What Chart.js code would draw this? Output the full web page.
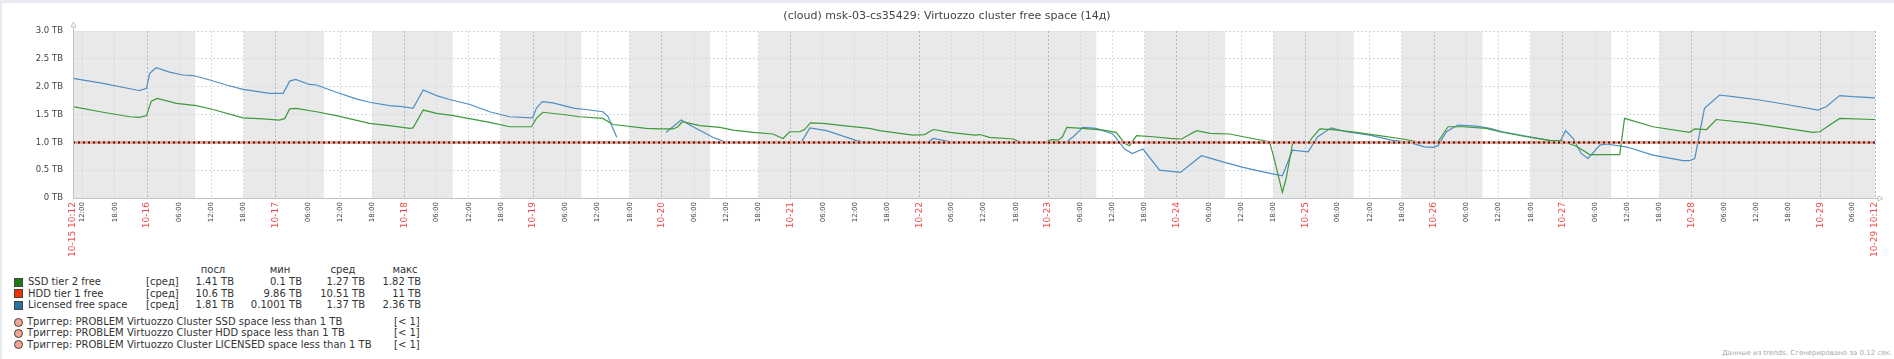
<!DOCTYPE html>
<html>
<head>
<meta charset="utf-8">
<script src="https://cdn.jsdelivr.net/npm/chart.js@4.4.0/dist/chart.umd.min.js"></script>
<style>
  html, body { margin: 0; padding: 0; background: #fff; }
  body { width: 1894px; height: 359px; position: relative; overflow: hidden; font-family: 'DejaVu Sans', sans-serif; color: #333; }
  .edge-top { position: absolute; left: 0; top: 0; width: 1894px; height: 3px; background: #e8ecf0; }
  .edge-left { position: absolute; left: 0; top: 0; width: 2px; height: 359px; background: #e8ecf0; }
  #chart { position: absolute; left: 0; top: 0; }
  .title { position: absolute; left: 0; width: 1894px; top: 9px; text-align: center; font-size: 11px; color: #444; }
  .lg { position: absolute; font-size: 10px; line-height: 12px; white-space: nowrap; color: #333; }
  .r { text-align: right; }
  .c { text-align: center; }
  .sw { position: absolute; width: 7px; height: 7px; border: 1px solid #444; }
  .dot { position: absolute; width: 7px; height: 7px; border: 1px solid #444; border-radius: 50%; background: #f3a494; }
  .foot { position: absolute; right: 2px; top: 349px; font-size: 7px; color: #aaa; }
</style>
</head>
<body>
<div class="edge-top"></div>
<div class="edge-left"></div>
<canvas id="chart" width="1894" height="262"></canvas>
<div class="title">(cloud) msk-03-cs35429: Virtuozzo cluster free space (14д)</div>
<div id="legend"></div>
<div class="foot">Данные из trends. Сгенерировано за 0.12 сек.</div>
<script>
// ---- time axis: hours since 10-15 10:12 ----
const startLabel = '10-15 10:12';
const endLabel = '10-29 10:12';
const dayLabels = ['10-16', '10-17', '10-18', '10-19', '10-20', '10-21', '10-22',
                   '10-23', '10-24', '10-25', '10-26', '10-27', '10-28', '10-29'];
const hourLabels = ['12:00', '18:00', null, '06:00'];

// non working time (grey background), hours since start
const offHours = [[0, 22.8], [31.8, 46.8], [55.8, 70.8], [79.8, 94.8], [103.8, 118.8],
                  [127.8, 190.8], [199.8, 214.8], [223.8, 238.8], [247.8, 262.8],
                  [271.8, 286.8], [295.8, 336]];

// SSD tier 2 free, TB
const ssdHours = [0, 5.6, 10.6, 12.4, 13.7, 14.6, 15.7, 19.3, 23.0, 26.1, 31.7, 35.4, 38.5, 39.5, 40.4,
  41.6, 45.4, 49.1, 55.3, 59.0, 62.8, 63.4, 65.3, 67.8, 70.9, 77.7, 81.4, 85.5, 86.4, 87.6, 91.4,
  94.5, 98.8, 100.7, 106.9, 109.4, 111.9, 112.8, 113.6, 116.9, 120.6, 123.1, 126.8, 130.5, 132.4,
  133.6, 135.5, 136.4, 137.5, 139.9, 143.6, 148.5, 150.4, 156.6, 158.8, 160.4, 163.5, 168.1, 169.1,
  170.9, 175.3, 176.5, 181.5, 182.4, 183.7, 184.5, 185.3, 188.3, 192.1, 194.5, 196.1, 197.0, 198.3,
  201.4, 204.5, 206.7, 209.5, 212.0, 215.7, 218.2, 223.1, 223.8, 225.5, 226.2, 227.4, 230.3, 231.2,
  232.5, 234.9, 239.3, 243.6, 248.0, 252.0, 254.5, 256.4, 259.2, 263.5, 266.0, 271.0, 275.6, 277.5,
  280.3, 282.8, 288.4, 289.3, 294.6, 301.4, 302.4, 304.6, 306.4, 313.2, 319.5, 324.4, 325.7, 329.4,
  335.6, 336];
const ssdValues = [1.64, 1.54, 1.46, 1.45, 1.48, 1.74, 1.79, 1.70, 1.66, 1.59, 1.44, 1.42, 1.40, 1.43, 1.60,
  1.61, 1.55, 1.48, 1.34, 1.30, 1.25, 1.26, 1.58, 1.52, 1.48, 1.36, 1.28, 1.28, 1.43, 1.54, 1.50,
  1.46, 1.43, 1.32, 1.25, 1.24, 1.24, 1.28, 1.37, 1.30, 1.27, 1.22, 1.18, 1.15, 1.07,
  1.19, 1.19, 1.23, 1.35, 1.34, 1.30, 1.25, 1.21, 1.13, 1.14, 1.23, 1.18, 1.13, 1.14,
  1.09, 1.06, 1.01, 1.01, 1.05, 1.04, 1.10, 1.27, 1.25, 1.22, 1.18, 0.98, 0.94, 1.12,
  1.10, 1.07, 1.06, 1.21, 1.16, 1.15, 1.10, 1.01, 0.77, 0.10, 0.35, 0.98, 0.98, 1.10,
  1.24, 1.23, 1.18, 1.12, 1.06, 0.98, 1.01, 1.28, 1.28, 1.25, 1.19, 1.10, 1.03, 1.03,
  0.93, 0.78, 0.78, 1.43, 1.28, 1.18, 1.24, 1.23, 1.41, 1.34, 1.25, 1.18, 1.19, 1.43,
  1.41, 1.41];

// Licensed free space, TB (null = no data)
const licHours = [0, 5.6, 11.8, 12.4, 13.7, 14.3, 15.5, 18.0, 20.5, 22.4, 25.5, 28.6, 31.7, 36.7, 39.2,
  40.4, 41.5, 44.1, 45.4, 49.1, 52.8, 55.3, 59.0, 61.5, 63.4, 65.3, 67.8, 70.2, 74.0, 77.7, 81.4,
  85.7, 86.4, 87.5, 89.5, 93.5, 95.7, 98.8, 99.8, 100.4, 101.4, 106, 110.6, 113.4, 115.6, 119.3,
  121.8, 128, 134, 135.8, 137.4, 140.5, 146.1, 147.9, 155, 159.4, 160.4, 164.1, 172, 180, 185.2,
  186.5, 188.3, 190.8, 193.9, 196.1, 197.5, 199.5, 202.6, 206.5, 210.4, 214.4, 218.2, 221.9, 225.5,
  227.4, 230.3, 232.1, 234.6, 237.4, 241.8, 245.8, 249.2, 252.0, 253.6, 254.5, 256.1, 258.2, 261.7,
  264.2, 266.6, 271.6, 277.2, 278.3, 279.7, 281.2, 282.5, 284.7, 285.9, 289.6, 294.6, 300.2, 301.4,
  302.4, 304.2, 307.0, 309.5, 314.5, 319.5, 325.4, 326.9, 329.4, 331.9, 336];
const licValues = [2.15, 2.06, 1.94, 1.93, 1.97, 2.24, 2.34, 2.26, 2.21, 2.20, 2.12, 2.03, 1.95, 1.88, 1.88,
  2.10, 2.13, 2.04, 2.03, 1.90, 1.78, 1.72, 1.66, 1.64, 1.61, 1.94, 1.84, 1.77, 1.68, 1.55, 1.46,
  1.44, 1.61, 1.73, 1.71, 1.61, 1.59, 1.55, 1.46, 1.31, 1.09, null, 1.18, 1.40, 1.28, 1.09,
  1.00, 0.99, 0.99, 1.00, 1.26, 1.21, 1.03, 1.00, 0.99, 1.00, 1.07, 1.00, 0.99, 0.99, 1.00,
  1.10, 1.27, 1.25, 1.15, 0.88, 0.80, 0.88, 0.50, 0.46, 0.76, 0.65, 0.55, 0.47, 0.40,
  0.86, 0.83, 1.10, 1.26, 1.19, 1.13, 1.04, 1.00, 0.92, 0.91, 0.94, 1.19, 1.31, 1.29,
  1.25, 1.19, 1.10, 1.00, 1.21, 1.07, 0.80, 0.71, 0.95, 0.97, 0.92, 0.77, 0.67, 0.67,
  0.71, 1.61, 1.85, 1.82, 1.76, 1.68, 1.58, 1.64, 1.84, 1.82, 1.80];

const triggerLevel = 1;

// legend table
const legendNames = ['SSD tier 2 free', 'HDD tier 1 free', 'Licensed free space'];
const legendColors = ['#1A7C11', '#F63100', '#2774A4'];
const lastVals = ['1.41 TB', '10.6 TB', '1.81 TB'];
const minVals = ['0.1 TB', '9.86 TB', '0.1001 TB'];
const avgVals = ['1.27 TB', '10.51 TB', '1.37 TB'];
const maxVals = ['1.82 TB', '11 TB', '2.36 TB'];
const triggerNames = [
  'Триггер: PROBLEM Virtuozzo Cluster SSD space less than 1 TB',
  'Триггер: PROBLEM Virtuozzo Cluster HDD space less than 1 TB',
  'Триггер: PROBLEM Virtuozzo Cluster LICENSED space less than 1 TB'
];

// build tick list
const tickHours = [0];
const tickLabels = [startLabel];
for (let k = 0; k < 56; k++) {
  tickHours.push(1.8 + 6 * k);
  tickLabels.push(hourLabels[k % 4] || dayLabels[(k - 2) / 4]);
}
tickHours.push(336);
tickLabels.push(endLabel);

const nearIdx = v => tickHours.findIndex(h => Math.abs(h - v) < 0.01);
const labelFor = v => { const i = nearIdx(v); return i >= 0 ? tickLabels[i] : ''; };
const isDay = v => labelFor(v).indexOf('-') > 0;
const isDayCtx = c => !!(c && c.tick && isDay(c.tick.value));

const toPoints = (hs, vs) => hs.map((h, i) => ({ x: h, y: vs[i] }));

const zabbixDecor = {
  id: 'zabbixDecor',
  beforeDraw(chart) {
    const { ctx, chartArea: a, scales: { x } } = chart;
    ctx.save();
    ctx.fillStyle = '#e9e9e9';
    offHours.forEach(([s, e]) => {
      const x1 = x.getPixelForValue(s), x2 = x.getPixelForValue(e);
      ctx.fillRect(x1, a.top, x2 - x1, a.bottom - a.top);
    });
    ctx.restore();
  },
  afterDatasetsDraw(chart) {
    const { ctx, chartArea: a, scales: { y } } = chart;
    const ty = Math.round(y.getPixelForValue(triggerLevel)) + 0.5;
    ctx.save();
    ctx.strokeStyle = '#f3a090';
    ctx.lineWidth = 3;
    ctx.beginPath(); ctx.moveTo(a.left, ty); ctx.lineTo(a.right, ty); ctx.stroke();
    ctx.strokeStyle = '#222';
    ctx.lineWidth = 2;
    ctx.setLineDash([2, 3]);
    ctx.beginPath(); ctx.moveTo(a.left, ty); ctx.lineTo(a.right, ty); ctx.stroke();
    ctx.setLineDash([]);

    // axes with arrows
    const l = Math.round(a.left) + 0.5, b = Math.round(a.bottom) + 0.5;
    ctx.strokeStyle = '#b9c4cc';
    ctx.lineWidth = 1;
    ctx.beginPath();
    ctx.moveTo(l, a.top - 4); ctx.lineTo(l, b); ctx.lineTo(a.right + 3, b);
    ctx.stroke();
    ctx.beginPath();
    ctx.moveTo(l - 2.5, a.top - 4); ctx.lineTo(l + 2.5, a.top - 4); ctx.lineTo(l, a.top - 9); ctx.closePath();
    ctx.moveTo(a.right + 3, b - 2.5); ctx.lineTo(a.right + 3, b + 2.5); ctx.lineTo(a.right + 8, b); ctx.closePath();
    ctx.stroke();
    ctx.restore();
  }
};

new Chart(document.getElementById('chart'), {
  type: 'line',
  data: {
    datasets: [{
      label: legendNames[0],
      data: toPoints(ssdHours, ssdValues),
      borderColor: '#3e9a3a',
      borderWidth: 1.2,
      pointRadius: 0,
      tension: 0
    }, {
      label: legendNames[2],
      data: toPoints(licHours, licValues),
      borderColor: '#4f8ec3',
      borderWidth: 1.2,
      pointRadius: 0,
      tension: 0,
      spanGaps: false
    }]
  },
  options: {
    responsive: false,
    animation: false,
    events: [],
    layout: { padding: { top: 31, right: 19, left: 0, bottom: 0 } },
    plugins: {
      legend: { display: false },
      title: { display: false },
      tooltip: { enabled: false }
    },
    scales: {
      x: {
        type: 'linear',
        min: 0,
        max: 336,
        afterBuildTicks: s => { s.ticks = tickHours.map(v => ({ value: v })); },
        afterFit: s => { s.height = 64; },
        grid: {
          drawTicks: false,
          color: c => isDayCtx(c) ? '#aeb8c0' : '#d3dbe0',
          lineWidth: 1
        },
        border: { display: false, dash: [2, 2] },
        ticks: {
          autoSkip: false,
          minRotation: 90,
          maxRotation: 90,
          padding: 4,
          callback: v => labelFor(v),
          color: c => isDayCtx(c) ? '#f04848' : '#444',
          font: c => ({ family: 'DejaVu Sans', size: isDayCtx(c) ? 9 : 7 })
        }
      },
      y: {
        min: 0,
        max: 3,
        afterFit: s => { s.width = 73; },
        grid: { drawTicks: false, color: '#d3dbe0' },
        border: { display: false, dash: [2, 2] },
        ticks: {
          stepSize: 0.5,
          padding: 10,
          color: '#444',
          font: { family: 'DejaVu Sans', size: 8.5 },
          callback: v => (v === 0 ? '0' : v.toFixed(1)) + ' TB'
        }
      }
    }
  },
  plugins: [zabbixDecor]
});

// legend block
const lg = document.getElementById('legend');
const put = (html, cls, left, top, width) => {
  const d = document.createElement('div');
  d.className = 'lg ' + (cls || '');
  d.style.left = left + 'px';
  d.style.top = top + 'px';
  if (width) d.style.width = width + 'px';
  d.innerHTML = html;
  lg.appendChild(d);
};
const colRight = [234, 302, 365, 421];
['посл', 'мин', 'сред', 'макс'].forEach((h, i) => put(h, 'c', [213, 280, 343, 405][i] - 30, 264, 60));
legendNames.forEach((name, i) => {
  const top = 276 + i * 11.5;
  const sw = document.createElement('div');
  sw.className = 'sw';
  sw.style.left = '14px';
  sw.style.top = (top + 1.5) + 'px';
  sw.style.background = legendColors[i];
  lg.appendChild(sw);
  put(name, '', 28, top);
  put('[сред]', '', 146, top);
  [lastVals[i], minVals[i], avgVals[i], maxVals[i]].forEach((v, j) => put(v, 'r', colRight[j] - 80, top, 80));
});
triggerNames.forEach((name, i) => {
  const top = 316 + i * 11.3;
  const dot = document.createElement('div');
  dot.className = 'dot';
  dot.style.left = '14px';
  dot.style.top = (top + 1.5) + 'px';
  lg.appendChild(dot);
  put(name, '', 27, top);
  put('[&lt; 1]', '', 394, top);
});
</script>
</body>
</html>
